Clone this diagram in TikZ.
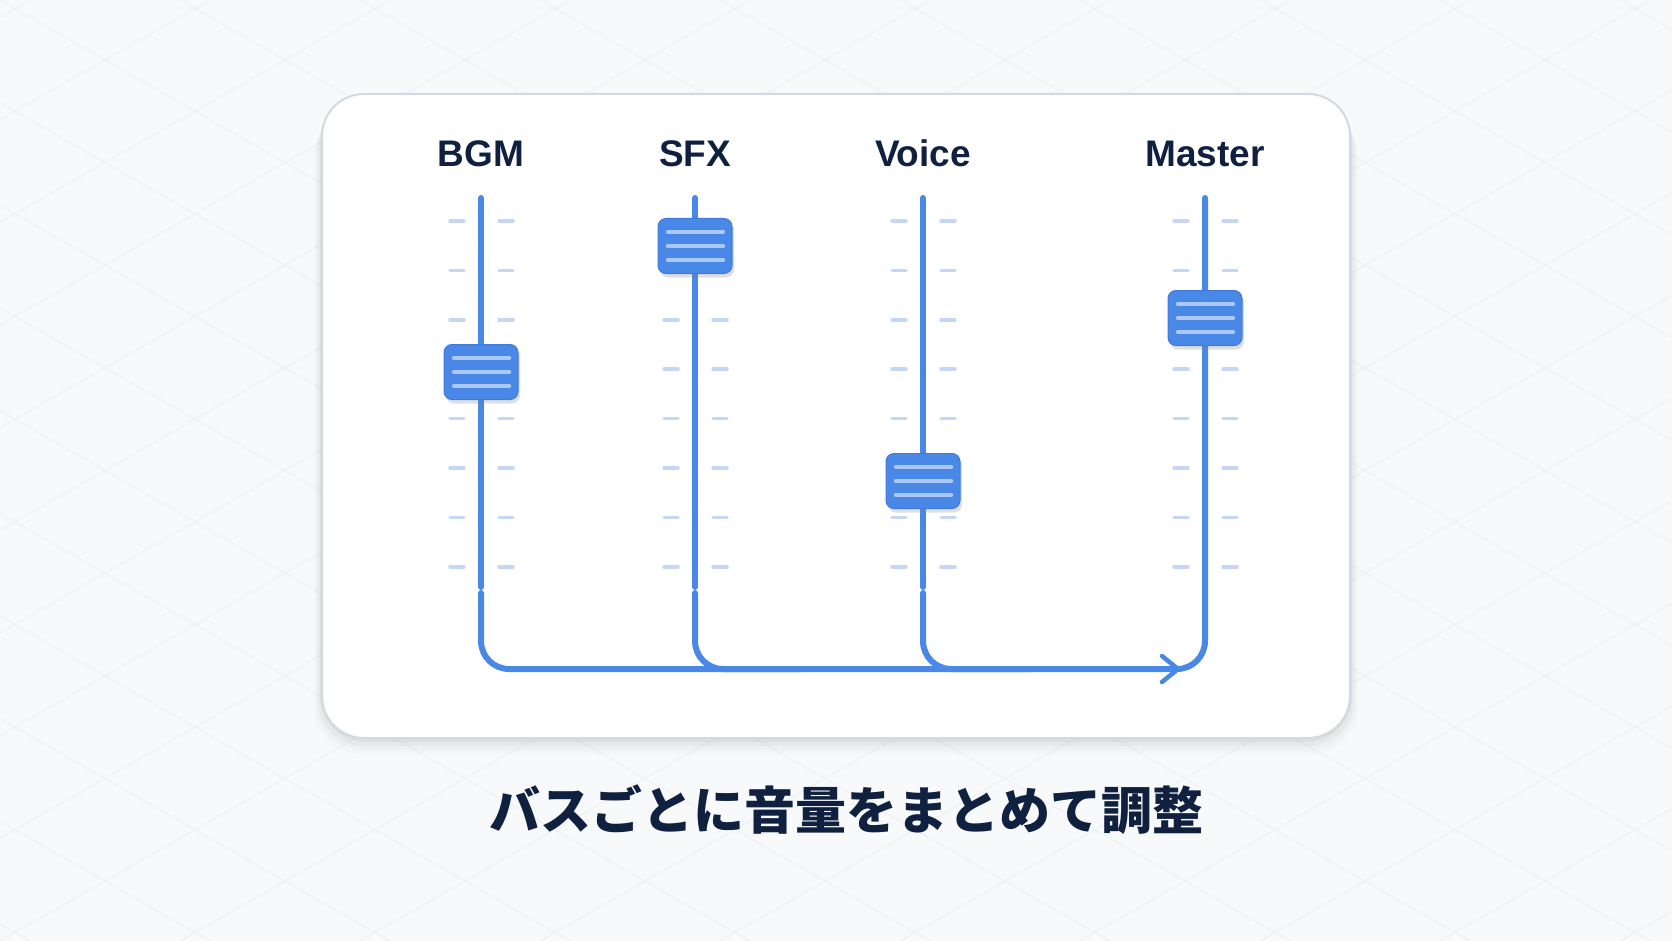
\documentclass[tikz,border=0pt]{standalone}
\usepackage{fontspec}
\setmainfont{Liberation Sans}
\newfontfamily\cjkfont{Noto Sans CJK JP}
\usetikzlibrary{arrows.meta,shadows}

\definecolor{busblue}{HTML}{4A88E8}
\definecolor{knobedge}{HTML}{3F7BDC}
\definecolor{tickblue}{HTML}{C5D7F4}
\definecolor{gripblue}{HTML}{ABC8F6}
\definecolor{inkblue}{HTML}{10203F}
\definecolor{cardline}{HTML}{D3D8E1}
\definecolor{bgpaper}{HTML}{F8F9FA}
\definecolor{bggrid}{HTML}{EEF0F3}

\tikzset{
  fader/.style={line width=6pt, draw=busblue, line cap=round},
  tickmark/.style={line width=3.5pt, draw=tickblue, line cap=round},
  knob/.style={fill=busblue, draw=knobedge, line width=1pt, rounded corners=8pt,
    minimum width=74pt, minimum height=55pt, inner sep=0pt,
    drop shadow={opacity=0.25, shadow xshift=2pt, shadow yshift=-4pt}},
  grip/.style={line width=4.5pt, draw=gripblue, line cap=round},
  chan/.style={font=\bfseries\fontsize{37}{40}\selectfont, text=inkblue, anchor=base},
}

\begin{document}
\begin{tikzpicture}[x=1pt,y=-1pt]
    \useasboundingbox (0,0) rectangle (1672,941);
    \fill[bgpaper] (0,0) rectangle (1672,941);

    % faint diamond pattern
    \begin{scope}
      \clip (0,0) rectangle (1672,941);
      \foreach \c in {-1800,-1620,...,1800} {
        \draw[bggrid, line width=1pt] (\c,0) -- ++(1650,941);
        \draw[bggrid, line width=1pt] (\c+1650,0) -- ++(-1650,941);
      }
    \end{scope}

    % card with soft shadow
    \foreach \s/\o in {16/0.015,12/0.02,8/0.03,4/0.04} {
      \fill[black, opacity=\o, rounded corners=46pt] (322-\s/2,94+\s) rectangle (1350+\s/2,738+\s);
    }
    \node[draw=cardline, fill=white, line width=2pt, rounded corners=42pt,
      minimum width=1028pt, minimum height=644pt, inner sep=0pt] (card) at (836,416) {};

    % channel labels and ticks
    \node[chan] (bgm label) at (481,167) {BGM};
    \node[chan] (sfx label) at (695,167) {SFX};
    \node[chan] (voice label) at (923,167) {Voice};
    \node[chan] (master label) at (1205,167) {Master};
    \foreach \x in {481,695,923,1205} {
      \foreach \t in {0,...,7} {
        \draw[tickmark] (\x-31,221+49.4*\t) -- (\x-17,221+49.4*\t);
        \draw[tickmark] (\x+18,221+49.4*\t) -- (\x+32,221+49.4*\t);
      }
    }

    % fader ends
    \coordinate (bgm top) at (481,198);
    \coordinate (bgm cut) at (481,587);
    \coordinate (bgm low) at (481,593);
    \coordinate (sfx top) at (695,198);
    \coordinate (sfx cut) at (695,587);
    \coordinate (sfx low) at (695,593);
    \coordinate (voice top) at (923,198);
    \coordinate (voice cut) at (923,587);
    \coordinate (voice low) at (923,593);
    \coordinate (master top) at (1205,198);
    \coordinate (bus end) at (1205,669);
    \coordinate (arrow tip) at (1178,669);

    \draw[fader] (bgm top) -- (bgm cut);
    \draw[fader] (sfx top) -- (sfx cut);
    \draw[fader] (voice top) -- (voice cut);

    % bus
    \draw[fader, rounded corners=28pt] (bgm low) |- (bus end) -- (master top);
    \draw[fader, rounded corners=28pt] (sfx low) |- (800,669);
    \draw[fader, rounded corners=28pt] (voice low) |- (1030,669);
    \draw[busblue, line width=4.5pt, line cap=round, line join=round]
      ([shift={(-16,-13)}]arrow tip) -- (arrow tip) -- ([shift={(-16,13)}]arrow tip);

    % knobs
    \foreach \nm/\x/\ky in {bgm/481/372, sfx/695/246, voice/923/481, master/1205/318} {
      \node[knob] (\nm knob) at (\x,\ky) {};
      \foreach \dy in {-14,0,14}
        \draw[grip] (\x-27,\ky+\dy) -- (\x+28,\ky+\dy);
    }

    \node[font=\cjkfont\bfseries\fontsize{51}{56}\selectfont, text=inkblue] (caption) at (846,810)
      {バスごとに音量をまとめて調整};
\end{tikzpicture}
\end{document}
